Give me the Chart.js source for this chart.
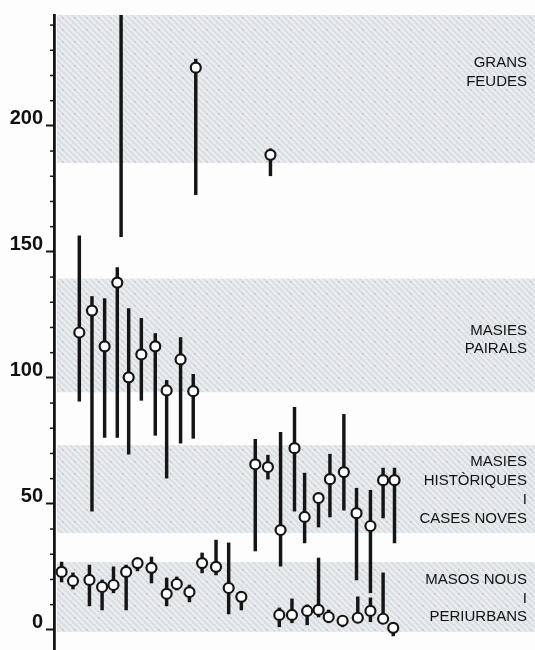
<!DOCTYPE html>
<html>
<head>
<meta charset="utf-8">
<script src="https://cdn.jsdelivr.net/npm/chart.js@4.4.1/dist/chart.umd.min.js"></script>
<style>
  html, body { margin: 0; padding: 0; background: #fdfdfd; overflow: hidden; }
  #wrap { width: 535px; height: 650px; }
  canvas { display: block; }
</style>
</head>
<body>
<div id="wrap"><canvas id="chart"></canvas></div>
<script>
// y axis
const yTicks = [0, 10, 20, 30, 40, 50, 60, 70, 80, 90, 100, 110, 120, 130, 140, 150, 160, 170, 180, 190, 200, 210, 220, 230, 240];
const yLabels = [0, 50, 100, 150, 200];

// bands: [low, high], label lines, value of first label line
const bandLow = [185.3, 94.3, 38.4, -0.8];
const bandHigh = [244, 139.4, 73.3, 26.9];
const bandText = [
  ['GRANS', 'FEUDES'],
  ['MASIES', 'PAIRALS'],
  ['MASIES', 'HISTÒRIQUES', 'I', 'CASES NOVES'],
  ['MASOS NOUS', 'I', 'PERIURBANS']
];
const bandTextAt = [225, 118.8, 66.5, 19.8];

// grans feudes
const feudesX = [11.2, 17.1];
const feudesMean = [223.1, 188.5];
const feudesLow = [172.7, 180.2];
const feudesHigh = [226.5, 190.9];

// masies pairals (5.3 has its mean above the axis)
const pairalsX = [2.0, 3.0, 4.0, 5.0, 5.3, 5.9, 6.9, 8.0, 8.9, 10.0, 11.0];
const pairalsMean = [118.0, 126.7, 112.5, 137.8, null, 100.2, 109.3, 112.5, 95.0, 107.3, 94.7];
const pairalsLow = [90.7, 47.1, 76.4, 76.4, 156.0, 69.7, 91.1, 77.2, 60.2, 74.1, 76.0];
const pairalsHigh = [156.4, 132.3, 131.5, 143.8, 260, 127.5, 123.6, 117.6, 99.0, 116.0, 101.4];

// masies historiques / cases noves
const histX = [15.9, 16.9, 17.9, 19.0, 19.8, 20.9, 21.8, 22.9, 23.9, 25.0, 26.0, 26.9];
const histMean = [65.7, 64.6, 39.6, 72.1, 44.8, 52.3, 59.8, 62.6, 46.3, 41.2, 59.4, 59.4];
const histLow = [31.3, 59.8, 25.3, 47.1, 34.5, 40.8, 44.8, 47.5, 19.8, 14.7, 44.4, 34.5];
const histHigh = [75.6, 69.3, 78.4, 88.3, 62.2, 54.3, 69.7, 85.5, 56.2, 55.4, 64.2, 64.2];

// masos nous / periurbans
const masosX = [0.6, 1.5, 2.8, 3.8, 4.7, 5.7, 6.6, 7.7, 8.9, 9.7, 10.7, 11.7, 12.8, 13.8, 14.8,
  17.8, 18.8, 20.0, 20.9, 21.7, 22.8, 24.0, 25.0, 26.0, 26.8];
const masosMean = [23.0, 19.4, 19.8, 17.0, 17.8, 23.0, 26.5, 24.6, 14.3, 18.2, 15.0, 26.5, 25.0, 16.6, 13.1,
  5.9, 5.9, 7.5, 7.9, 5.1, 3.6, 4.8, 7.5, 4.4, 0.8];
const masosLow = [19.0, 16.2, 9.5, 7.9, 14.7, 7.9, 23.4, 18.6, 9.5, 15.8, 11.1, 22.6, 21.8, 6.3, 7.9,
  1.2, 2.8, 2.0, 5.1, 2.8, 1.2, 2.8, 3.2, 2.8, -2.4];
const masosHigh = [26.9, 22.6, 25.7, 19.8, 25.0, 25.7, 28.5, 28.9, 20.6, 21.0, 17.8, 30.5, 35.6, 34.5, 14.7,
  8.7, 12.3, 9.9, 28.5, 7.9, 5.1, 13.1, 12.7, 22.6, 2.0];

const groupX = [feudesX, pairalsX, histX, masosX];
const groupMean = [feudesMean, pairalsMean, histMean, masosMean];
const groupLow = [feudesLow, pairalsLow, histLow, masosLow];
const groupHigh = [feudesHigh, pairalsHigh, histHigh, masosHigh];

const rangeData = [];
const meanData = [];
groupX.forEach((xs, g) => {
  xs.forEach((x, i) => {
    rangeData.push({ x: x, y: [groupLow[g][i], groupHigh[g][i]] });
    if (groupMean[g][i] !== null) meanData.push({ x: x, y: groupMean[g][i] });
  });
});

function bandPattern() {
  const c = document.createElement('canvas');
  c.width = 12; c.height = 12;
  const p = c.getContext('2d');
  p.fillStyle = '#dbdfe1';
  p.fillRect(0, 0, 12, 12);
  p.strokeStyle = '#ebeef0';
  p.lineWidth = 2;
  for (let k = -12; k <= 24; k += 6) {
    p.beginPath();
    p.moveTo(k, 0);
    p.lineTo(k + 12, 12);
    p.stroke();
  }
  p.fillStyle = 'rgba(220, 150, 190, 0.55)';
  p.fillRect(2, 5, 1.5, 1.5);
  return p.createPattern(c, 'repeat');
}

const bandsPlugin = {
  id: 'bands',
  beforeDatasetsDraw(chart) {
    const ctx = chart.ctx;
    const area = chart.chartArea;
    const y = chart.scales.y;
    const fill = bandPattern();
    ctx.save();
    bandLow.forEach((lo, i) => {
      const top = y.getPixelForValue(bandHigh[i]);
      const bottom = y.getPixelForValue(lo);
      ctx.fillStyle = fill;
      ctx.fillRect(area.left + 3, top, area.right - area.left - 3, bottom - top);
    });
    ctx.fillStyle = '#111111';
    ctx.font = '15px "Liberation Sans", Arial, sans-serif';
    ctx.textAlign = 'right';
    ctx.textBaseline = 'middle';
    bandText.forEach((lines, i) => {
      const start = y.getPixelForValue(bandTextAt[i]);
      lines.forEach((line, j) => {
        ctx.fillText(line, area.right - 8, start + j * 18.7);
      });
    });
    // minor ticks on the axis
    ctx.strokeStyle = '#151515';
    ctx.lineWidth = 1.5;
    yTicks.filter(v => !yLabels.includes(v)).forEach(v => {
      const py = y.getPixelForValue(v);
      ctx.beginPath();
      ctx.moveTo(area.left - 4, py);
      ctx.lineTo(area.left, py);
      ctx.stroke();
    });
    ctx.restore();
  }
};

new Chart(document.getElementById('chart'), {
  type: 'bar',
  data: {
    datasets: [
      {
        type: 'scatter',
        data: meanData,
        order: 1,
        pointRadius: 5,
        pointBorderWidth: 2.2,
        pointBackgroundColor: '#ffffff',
        pointBorderColor: '#151515'
      },
      {
        type: 'bar',
        data: rangeData,
        order: 2,
        barThickness: 2.8,
        backgroundColor: '#151515',
        borderWidth: 0
      }
    ]
  },
  options: {
    responsive: true,
    maintainAspectRatio: false,
    animation: false,
    layout: { autoPadding: false, padding: { top: 15, left: 0, right: 0, bottom: 0 } },
    plugins: {
      legend: { display: false },
      tooltip: { enabled: false }
    },
    scales: {
      x: {
        type: 'linear',
        display: false,
        min: 0,
        max: 38,
        offset: false
      },
      y: {
        type: 'linear',
        min: -8,
        max: 244,
        afterBuildTicks(scale) {
          scale.ticks = yLabels.map(v => ({ value: v }));
        },
        afterFit(scale) {
          scale.width = 54;
          scale.paddingTop = 0;
          scale.paddingBottom = 0;
        },
        border: { display: true, color: '#151515', width: 2.8 },
        grid: {
          drawOnChartArea: false,
          drawTicks: true,
          tickLength: 8,
          tickColor: '#151515',
          tickWidth: 2
        },
        ticks: {
          padding: 3,
          labelOffset: -7,
          color: '#111111',
          font: { family: '"Liberation Sans", Arial, sans-serif', size: 20, weight: 'bold' },
          callback: v => String(v)
        }
      }
    }
  },
  plugins: [bandsPlugin]
});
</script>
</body>
</html>
